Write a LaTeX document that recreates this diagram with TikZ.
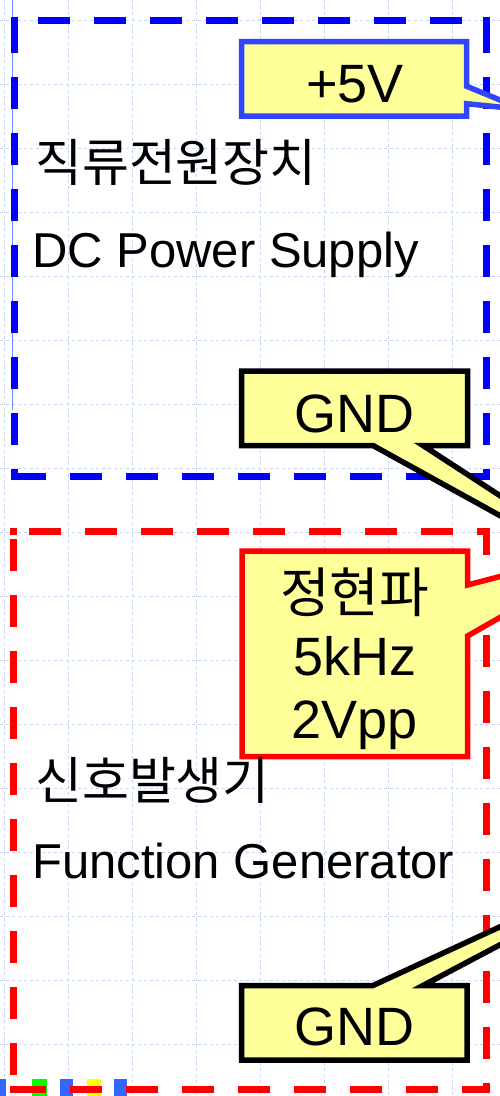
\documentclass[tikz,border=0pt]{standalone}
\usepackage{fontspec}
\setmainfont{Liberation Sans}
\newfontfamily\krfont{Noto Sans CJK KR}

\definecolor{boxblue}{RGB}{0,0,255}
\definecolor{boxred}{RGB}{255,0,0}
\definecolor{tagblue}{RGB}{51,68,255}
\definecolor{tagfill}{RGB}{255,255,153}
\definecolor{gridblue}{RGB}{200,212,245}
\definecolor{edgeblue}{RGB}{110,140,255}
\definecolor{markblue}{RGB}{51,102,255}
\definecolor{markgreen}{RGB}{0,255,0}
\definecolor{markyellow}{RGB}{255,255,0}

\begin{document}
\begin{tikzpicture}[x=1pt, y=-1pt, line join=miter,
  gridline/.style={gridblue, line width=0.8pt, dash pattern=on 3pt off 3pt},
  boxline/.style={line width=7pt, dash pattern=on 32pt off 24pt},
  calloutbox/.style={draw=#1, fill=tagfill, line width=5.5pt},
  devname/.style={anchor=base west, inner sep=0pt, font=\fontsize{49}{58}\selectfont},
  tagtext/.style={inner sep=0pt, align=center, text=black, font=\fontsize{54}{63}\selectfont}]

  \useasboundingbox (0,0) rectangle (500,1096);
  \clip (0,0) rectangle (500,1096);

  % -- Background grid --
  \foreach \gx in {4,68,...,452} \draw[gridline] (\gx,0) -- (\gx,1096);
  \foreach \gy in {20,84,...,1044} \draw[gridline] (0,\gy) -- (500,\gy);

  % -- Cut-off parts along the bottom --
  \fill[markblue] (0,1079) rectangle (5.7,1096);
  \fill[markgreen] (32.3,1079) rectangle (46.7,1096);
  \fill[markblue] (60,1079) rectangle (73.3,1096);
  \fill[markyellow] (86.7,1079) rectangle (100.7,1096);
  \fill[markblue] (114,1079) rectangle (127.3,1096);
  \draw[edgeblue, line width=1.2pt] (12.7,0) -- (12.7,410);

  % -- DC power supply frame --
  \draw[boxline, boxblue] (14,20.5) -- (14,476.5);
  \draw[boxline, boxblue] (14,476.5) -- (486,476.5);
  \draw[boxline, boxblue] (486,20.5) -- (486,476.5);
  \draw[boxline, boxblue, dash phase=32pt] (14,20.5) -- (486,20.5);
  \foreach \cx/\cy in {14/20.5, 14/476.5, 486/20.5, 486/476.5}
    \fill[boxblue] (\cx-3.5,\cy-3.5) rectangle (\cx+3.5,\cy+3.5);

  % -- Function generator frame --
  \draw[boxline, boxred, dash phase=48.5pt] (13.7,531.5) -- (13.7,1089.5);
  \draw[boxline, boxred] (13.7,1089.5) -- (486.5,1089.5);
  \draw[boxline, boxred, dash phase=8.5pt] (486.5,531.5) -- (486.5,1089.5);
  \draw[boxline, boxred, dash phase=40.7pt] (13.7,531.5) -- (486.5,531.5);
  \foreach \cx/\cy in {13.7/531.5, 13.7/1089.5, 486.5/531.5, 486.5/1089.5}
    \fill[boxred] (\cx-3.5,\cy-3.5) rectangle (\cx+3.5,\cy+3.5);

  % -- Callouts --
  \path[calloutbox=tagblue] (241.7,41.7) -- (466.7,41.7) -- (466.7,86.3) -- (523,109.5)
    -- (466.7,103.7) -- (466.7,116) -- (241.7,116) -- cycle;
  \node[tagtext, anchor=base] (vplus) at (355,102) {+5V};

  \path[calloutbox=black] (241.7,371) -- (467.5,371) -- (467.5,445.5) -- (423,445.5)
    -- (700,626) -- (373,445.5) -- (241.7,445.5) -- cycle;
  \node[tagtext, anchor=base] (gndtop) at (354.6,432) {GND};

  \path[calloutbox=boxred] (242,551) -- (467.5,551) -- (467.5,585) -- (632,542)
    -- (467.5,636) -- (467.5,756.5) -- (242,756.5) -- cycle;
  \node[tagtext] (sine) at (354.7,659) {{\krfont 정현파}\\5kHz\\2Vpp};

  \path[calloutbox=black] (241.5,985.5) -- (373,985.5) -- (770,802) -- (423,985.5)
    -- (467,985.5) -- (467,1060) -- (241.5,1060) -- cycle;
  \node[tagtext, anchor=base] (gndbot) at (354.2,1045) {GND};

  % -- Device names --
  \node[devname] (dckr) at (35,181) {\fontsize{51}{58}\krfont 직류전원장치};
  \node[devname] (dcen) at (32,267) {DC Power Supply};
  \node[devname] (fgkr) at (35,799) {\fontsize{51}{58}\krfont 신호발생기};
  \node[devname] (fgen) at (32,878) {Function Generator};

\end{tikzpicture}
\end{document}
